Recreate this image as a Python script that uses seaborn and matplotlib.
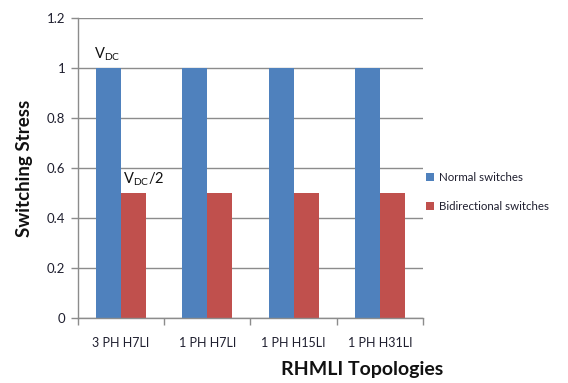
import matplotlib
matplotlib.use("Agg")
import matplotlib.pyplot as plt
from matplotlib.ticker import FixedLocator
import pandas as pd
import seaborn as sns

topologies = ["3 PH H7LI", "1 PH H7LI", "1 PH H15LI", "1 PH H31LI"]
normal_switches = [1.0, 1.0, 1.0, 1.0]
bidirectional_switches = [0.5, 0.5, 0.5, 0.5]
series_names = ["Normal switches", "Bidirectional switches"]
y_ticks = [0, 0.2, 0.4, 0.6, 0.8, 1, 1.2]
y_tick_labels = ["0", "0.2", "0.4", "0.6", "0.8", "1", "1.2"]

df = pd.DataFrame({
    "Topology": topologies * 2,
    "Series": [series_names[0]] * len(topologies) + [series_names[1]] * len(topologies),
    "Stress": normal_switches + bidirectional_switches,
})

sns.set_theme(style="white")
plt.rcParams["font.family"] = ["Lato", "DejaVu Sans"]
plt.rcParams["mathtext.fontset"] = "custom"
plt.rcParams["mathtext.rm"] = "Lato"

fig = plt.figure(figsize=(5.68, 3.83), dpi=100)
ax = fig.add_axes([0.137, 0.170, 0.608, 0.783])

palette = {series_names[0]: "#4F81BD", series_names[1]: "#C0504D"}
sns.barplot(data=df, x="Topology", y="Stress", hue="Series", order=topologies,
            hue_order=series_names, palette=palette, width=0.58, saturation=1,
            linewidth=0, ax=ax, legend=True)

ax.set_ylim(0, 1.2)
ax.set_xlim(-0.5, len(topologies) - 0.5)
ax.set_yticks(y_ticks)
ax.set_yticklabels(y_tick_labels)
ax.yaxis.grid(True, color="#8C8C8C", linewidth=1.0)
ax.set_axisbelow(True)

for side in ["top", "right"]:
    ax.spines[side].set_visible(False)
for side in ["left", "bottom"]:
    ax.spines[side].set_color("#8C8C8C")
    ax.spines[side].set_linewidth(1.0)

# tick marks sit between the category groups
ax.xaxis.set_minor_locator(FixedLocator([i - 0.5 for i in range(len(topologies) + 1)]))
ax.tick_params(axis="x", which="major", length=0, labelsize=9, colors="#1F1F2F", pad=14)
ax.tick_params(axis="x", which="minor", bottom=True, length=5, color="#8C8C8C", width=1)
ax.tick_params(axis="y", left=True, length=5, color="#8C8C8C", width=1,
               labelsize=9.5, colors="#1F1F2F", pad=4)

ax.set_xlabel("RHMLI Topologies", fontsize=14, fontweight="bold", color="#111111")
ax.xaxis.set_label_coords(0.823, -0.145)
ax.set_ylabel("Switching Stress", fontsize=13.5, fontweight="bold", labelpad=10,
              color="#111111")

# value labels above the first group
bars = ax.patches
blue_bar = bars[0]
red_bar = bars[len(topologies)]
ax.text(blue_bar.get_x() - 0.02, normal_switches[0] + 0.02, r"V$_{\mathrm{DC}}$",
        fontsize=10.5, ha="left", va="bottom", color="#111111")
ax.text(red_bar.get_x() + 0.02, bidirectional_switches[0] + 0.02, r"V$_{\mathrm{DC}}$/2",
        fontsize=10.5, ha="left", va="bottom", color="#111111")

leg = ax.legend(loc="center left", bbox_to_anchor=(0.995, 0.42), frameon=False,
                fontsize=8.3, handlelength=0.7, handleheight=0.7, handletextpad=0.4,
                labelspacing=1.5, borderaxespad=0.0)
for t in leg.get_texts():
    t.set_color("#1F1F2F")

fig.savefig("out.png", dpi=100)
